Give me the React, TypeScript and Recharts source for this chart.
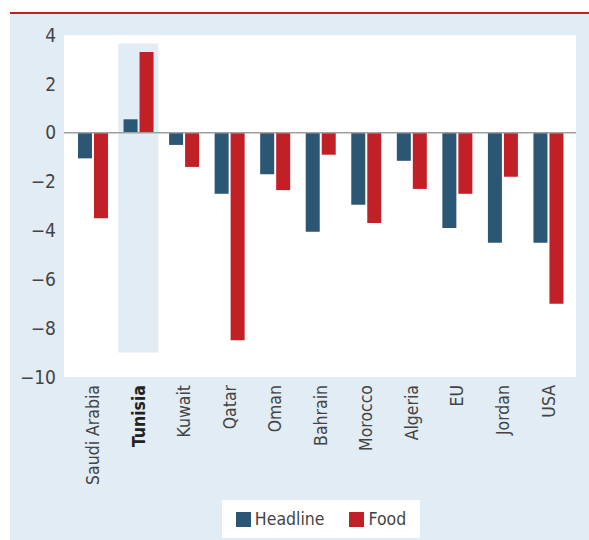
import React from "react"
import { BarChart, Bar, XAxis, YAxis, CartesianGrid, ReferenceLine, ReferenceArea, Legend } from "recharts"

const countries = ["Saudi Arabia", "Tunisia", "Kuwait", "Qatar", "Oman", "Bahrain", "Morocco", "Algeria", "EU", "Jordan", "USA"]
const headline = [-1.05, 0.55, -0.5, -2.5, -1.7, -4.05, -2.95, -1.15, -3.9, -4.5, -4.5]
const food = [-3.5, 3.3, -1.4, -8.5, -2.35, -0.9, -3.7, -2.3, -2.5, -1.8, -7.0]
const yTicks = [-10, -8, -6, -4, -2, 0, 2, 4]
const seriesOrder = ["Headline", "Food"]
const highlight = "Tunisia"

const data = countries.map((c, i) => ({ country: c, Headline: headline[i], Food: food[i] }))

const FONT = "'Liberation Sans Narrow', 'DejaVu Sans Condensed', 'Roboto Condensed', sans-serif"
const BLUE = "#2b5674"
const RED = "#c12027"
const PANEL = "#e1ecf5"

const fmt = (v: number) => (v < 0 ? `\u2212${Math.abs(v)}` : `${v}`)

function CountryTick(props: any) {
  const { x, y, payload } = props
  const bold = payload.value === highlight
  return (
    <text
      transform={`translate(${x},${y}) rotate(-90)`}
      textAnchor="end"
      dy="0.36em"
      fontFamily={FONT}
      fontSize={17.5}
      fontWeight={bold ? 700 : 400}
      fill={bold ? "#222" : "#444"}
    >
      {payload.value}
    </text>
  )
}

function HighlightShape(props: any) {
  const { x, y, width, height } = props
  const inset = 2.75
  return <rect x={x + inset} y={y} width={width - inset * 2} height={height} fill={PANEL} />
}

function LegendBox(props: any) {
  const items = [...(props.payload || [])].sort(
    (a: any, b: any) => seriesOrder.indexOf(a.value) - seriesOrder.indexOf(b.value)
  )
  return (
    <div style={{ background: "#fff", height: 38, display: "flex", alignItems: "center", justifyContent: "center", fontFamily: FONT, fontSize: 17.5, color: "#444" }}>
      {items.map((it: any, i: number) => (
        <div key={it.value} style={{ display: "flex", alignItems: "center", marginLeft: i ? 25 : 0 }}>
          <span style={{ display: "inline-block", width: 15, height: 15, background: it.color, marginRight: 4 }} />
          <span>{it.value}</span>
        </div>
      ))}
    </div>
  )
}

export default function App() {
  return (
    <div style={{ position: "absolute", left: 0, top: 0, width: 589, height: 540, background: "#fff" }}>
      <div style={{ position: "absolute", left: 10, top: 12, width: 579, height: 2, background: RED }} />
      <div style={{ position: "absolute", left: 10, top: 14, width: 579, height: 526, background: PANEL }} />
      <div style={{ position: "absolute", left: 0, top: 0 }}>
        <BarChart
          width={589}
          height={540}
          data={data}
          margin={{ top: 35, right: 13, left: 14, bottom: 2 }}
          barSize={14}
          barGap={2}
        >
          <CartesianGrid fill="#fff" stroke="none" horizontal={false} vertical={false} />
          <XAxis
            dataKey="country"
            interval={0}
            height={123}
            axisLine={false}
            tickLine={false}
            padding={{ left: 6, right: 5 }}
            tick={<CountryTick />}
          />
          <YAxis
            width={50}
            domain={[-10, 4]}
            ticks={yTicks}
            axisLine={false}
            tickLine={false}
            tickFormatter={fmt}
            tick={{ fontFamily: FONT, fontSize: 19, fill: "#444" }}
          />
          <ReferenceArea x1={highlight} x2={highlight} y1={-9} y2={3.65} shape={<HighlightShape />} ifOverflow="visible" />
          <ReferenceLine y={0} stroke="#a0a0a0" strokeWidth={1.5} />
          <Bar dataKey="Headline" fill={BLUE} isAnimationActive={false} />
          <Bar dataKey="Food" fill={RED} isAnimationActive={false} />
          <Legend
            verticalAlign="bottom"
            content={<LegendBox />}
            wrapperStyle={{ left: 222, width: 198, bottom: 2 }}
          />
        </BarChart>
      </div>
    </div>
  )
}
